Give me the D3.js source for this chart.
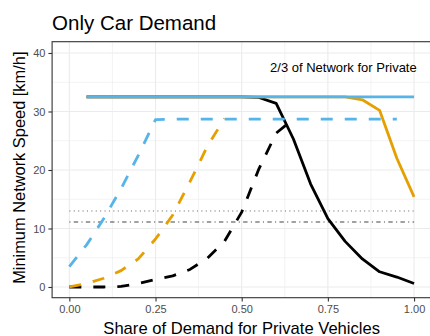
<!DOCTYPE html>
<html>
<head>
<meta charset="utf-8">
<script src="https://cdn.jsdelivr.net/npm/d3@7"></script>
<style>
  html, body { margin: 0; padding: 0; background: #ffffff; }
  svg { display: block; font-family: "Liberation Sans", Arial, sans-serif; }
</style>
</head>
<body>
<div id="chart"></div>
<script>
// Minimum network speed vs. share of demand for private vehicles
const xTicks = [0, 0.25, 0.5, 0.75, 1.0];
const xTickLabels = ["0.00", "0.25", "0.50", "0.75", "1.00"];
const yTicks = [0, 10, 20, 30, 40];
const yTickLabels = ["0", "10", "20", "30", "40"];

// Solid lines
const blackSolidX = [0.05, 0.10, 0.15, 0.20, 0.25, 0.30, 0.35, 0.40, 0.45, 0.50, 0.55, 0.60, 0.65, 0.70, 0.75, 0.80, 0.85, 0.90, 0.95, 1.00];
const blackSolidY = [32.5, 32.5, 32.5, 32.5, 32.5, 32.5, 32.5, 32.5, 32.5, 32.5, 32.4, 31.4, 25.3, 17.6, 11.7, 7.8, 4.8, 2.6, 1.7, 0.6];
const orangeSolidX = [0.05, 0.10, 0.15, 0.20, 0.25, 0.30, 0.35, 0.40, 0.45, 0.50, 0.55, 0.60, 0.65, 0.70, 0.75, 0.80, 0.85, 0.90, 0.95, 1.00];
const orangeSolidY = [32.5, 32.5, 32.5, 32.5, 32.5, 32.5, 32.5, 32.5, 32.5, 32.5, 32.5, 32.5, 32.5, 32.5, 32.5, 32.5, 32.0, 30.2, 22.0, 15.4];
const blueSolidX = [0.05, 0.10, 0.15, 0.20, 0.25, 0.30, 0.35, 0.40, 0.45, 0.50, 0.55, 0.60, 0.65, 0.70, 0.75, 0.80, 0.85, 0.90, 0.95, 1.00];
const blueSolidY = [32.5, 32.5, 32.5, 32.5, 32.5, 32.5, 32.5, 32.5, 32.5, 32.5, 32.5, 32.5, 32.5, 32.5, 32.5, 32.5, 32.5, 32.5, 32.5, 32.5];

// Dashed lines
const blackDashX = [0.00, 0.05, 0.10, 0.15, 0.20, 0.25, 0.30, 0.35, 0.40, 0.45, 0.50, 0.55, 0.60, 0.65];
const blackDashY = [0.0, 0.0, 0.0, 0.1, 0.6, 1.3, 1.9, 3.0, 4.9, 7.8, 12.8, 20.2, 26.3, 28.7];
const orangeDashX = [0.00, 0.05, 0.10, 0.15, 0.20, 0.25, 0.30, 0.35, 0.40, 0.45];
const orangeDashY = [0.0, 0.6, 1.5, 2.8, 4.8, 8.2, 12.3, 18.0, 24.0, 28.8];
const blueDashX = [0.00, 0.05, 0.10, 0.15, 0.20, 0.25, 0.30, 0.35, 0.40, 0.45, 0.50, 0.55, 0.60, 0.65, 0.70, 0.75, 0.80, 0.85, 0.90, 0.95];
const blueDashY = [3.5, 7.2, 11.7, 16.8, 22.5, 28.6, 28.7, 28.7, 28.7, 28.7, 28.7, 28.7, 28.7, 28.7, 28.7, 28.7, 28.7, 28.7, 28.7, 28.7];

// Horizontal reference levels
const refDotted = 13.0;
const refDotDash = 11.1;
const refRange = [0, 1];

const titleText = "Only Car Demand";
const xTitle = "Share of Demand for Private Vehicles";
const yTitle = "Minimum Network Speed [km/h]";
const annotationText = "2/3 of Network for Private";

const W = 430, H = 336;
const panel = { left: 52.1, right: 431.3, top: 41.7, bottom: 297.7 };

const x = d3.scaleLinear().domain([-0.05, 1.05]).range([panel.left, panel.right]);
const y = d3.scaleLinear().domain([-1.83, 41.93]).range([panel.bottom, panel.top]);

const svg = d3.select("#chart").append("svg")
  .attr("width", W).attr("height", H);

// Panel background
svg.append("rect")
  .attr("x", panel.left).attr("y", panel.top)
  .attr("width", panel.right - panel.left).attr("height", panel.bottom - panel.top)
  .attr("fill", "#ffffff");

const grid = svg.append("g");
const xMinor = [0.125, 0.375, 0.625, 0.875];
const yMinor = [5, 15, 25, 35];
grid.selectAll(".xminor").data(xMinor).join("line")
  .attr("x1", d => x(d)).attr("x2", d => x(d))
  .attr("y1", panel.top).attr("y2", panel.bottom)
  .attr("stroke", "#ebebeb").attr("stroke-width", 0.6);
grid.selectAll(".yminor").data(yMinor).join("line")
  .attr("x1", panel.left).attr("x2", panel.right)
  .attr("y1", d => y(d)).attr("y2", d => y(d))
  .attr("stroke", "#ebebeb").attr("stroke-width", 0.6);
grid.selectAll(".xmajor").data(xTicks).join("line")
  .attr("x1", d => x(d)).attr("x2", d => x(d))
  .attr("y1", panel.top).attr("y2", panel.bottom)
  .attr("stroke", "#ebebeb").attr("stroke-width", 1.1);
grid.selectAll(".ymajor").data(yTicks).join("line")
  .attr("x1", panel.left).attr("x2", panel.right)
  .attr("y1", d => y(d)).attr("y2", d => y(d))
  .attr("stroke", "#ebebeb").attr("stroke-width", 1.1);

// Reference lines
svg.append("line")
  .attr("x1", x(refRange[0])).attr("x2", x(refRange[1]))
  .attr("y1", y(refDotted)).attr("y2", y(refDotted))
  .attr("stroke", "#6e6e6e").attr("stroke-width", 1.1)
  .attr("stroke-dasharray", "1.1,3.3");
svg.append("line")
  .attr("x1", x(refRange[0])).attr("x2", x(refRange[1]))
  .attr("y1", y(refDotDash)).attr("y2", y(refDotDash))
  .attr("stroke", "#444444").attr("stroke-width", 1.1)
  .attr("stroke-dasharray", "1.1,3.3,4.4,3.3");

const line = d3.line().x(d => x(d[0])).y(d => y(d[1]));
const zip = (xs, ys) => xs.map((v, i) => [v, ys[i]]);

const series = [
  { xs: blackSolidX, ys: blackSolidY, color: "#000000", dash: null },
  { xs: blackDashX, ys: blackDashY, color: "#000000", dash: "12,12" },
  { xs: orangeSolidX, ys: orangeSolidY, color: "#E69F00", dash: null },
  { xs: orangeDashX, ys: orangeDashY, color: "#E69F00", dash: "12,12" },
  { xs: blueSolidX, ys: blueSolidY, color: "#56B4E9", dash: null },
  { xs: blueDashX, ys: blueDashY, color: "#56B4E9", dash: "12,12" }
];

const marks = svg.append("g");
series.forEach(s => {
  marks.append("path")
    .attr("d", line(zip(s.xs, s.ys)))
    .attr("fill", "none")
    .attr("stroke", s.color)
    .attr("stroke-width", 2.8)
    .attr("stroke-linejoin", "round")
    .attr("stroke-linecap", "butt")
    .attr("stroke-dasharray", s.dash);
});

// Annotation
svg.append("text")
  .attr("x", x(0.795)).attr("y", y(37.6) + 4.7)
  .attr("text-anchor", "middle")
  .attr("font-size", 13)
  .attr("fill", "#000000")
  .text(annotationText);

// Panel border
svg.append("rect")
  .attr("x", panel.left).attr("y", panel.top)
  .attr("width", panel.right - panel.left).attr("height", panel.bottom - panel.top)
  .attr("fill", "none").attr("stroke", "#333333").attr("stroke-width", 1.1);

// Axes
const xAxis = d3.axisBottom(x).tickValues(xTicks)
  .tickFormat((d, i) => xTickLabels[i]).tickSize(3.7).tickPadding(3.5);
const gx = svg.append("g").attr("transform", `translate(0,${panel.bottom})`).call(xAxis);
gx.select(".domain").remove();
gx.selectAll(".tick line").attr("stroke", "#333333").attr("stroke-width", 1.1);
gx.selectAll(".tick text").attr("fill", "#4d4d4d").attr("font-size", 11)
  .attr("font-family", "Liberation Sans, Arial, sans-serif");

const yAxis = d3.axisLeft(y).tickValues(yTicks)
  .tickFormat((d, i) => yTickLabels[i]).tickSize(3.7).tickPadding(3);
const gy = svg.append("g").attr("transform", `translate(${panel.left},0)`).call(yAxis);
gy.select(".domain").remove();
gy.selectAll(".tick line").attr("stroke", "#333333").attr("stroke-width", 1.1);
gy.selectAll(".tick text").attr("fill", "#4d4d4d").attr("font-size", 11)
  .attr("font-family", "Liberation Sans, Arial, sans-serif");

// Titles
svg.append("text")
  .attr("x", panel.left).attr("y", 30)
  .attr("font-size", 20.5).attr("fill", "#000000")
  .text(titleText);

svg.append("text")
  .attr("x", (panel.left + panel.right) / 2).attr("y", 333.5)
  .attr("text-anchor", "middle")
  .attr("font-size", 16.6).attr("fill", "#000000")
  .text(xTitle);

svg.append("text")
  .attr("transform", `translate(24.5,${(panel.top + panel.bottom) / 2 - 2}) rotate(-90)`)
  .attr("text-anchor", "middle")
  .attr("font-size", 16.4).attr("fill", "#000000")
  .text(yTitle);
</script>
</body>
</html>
